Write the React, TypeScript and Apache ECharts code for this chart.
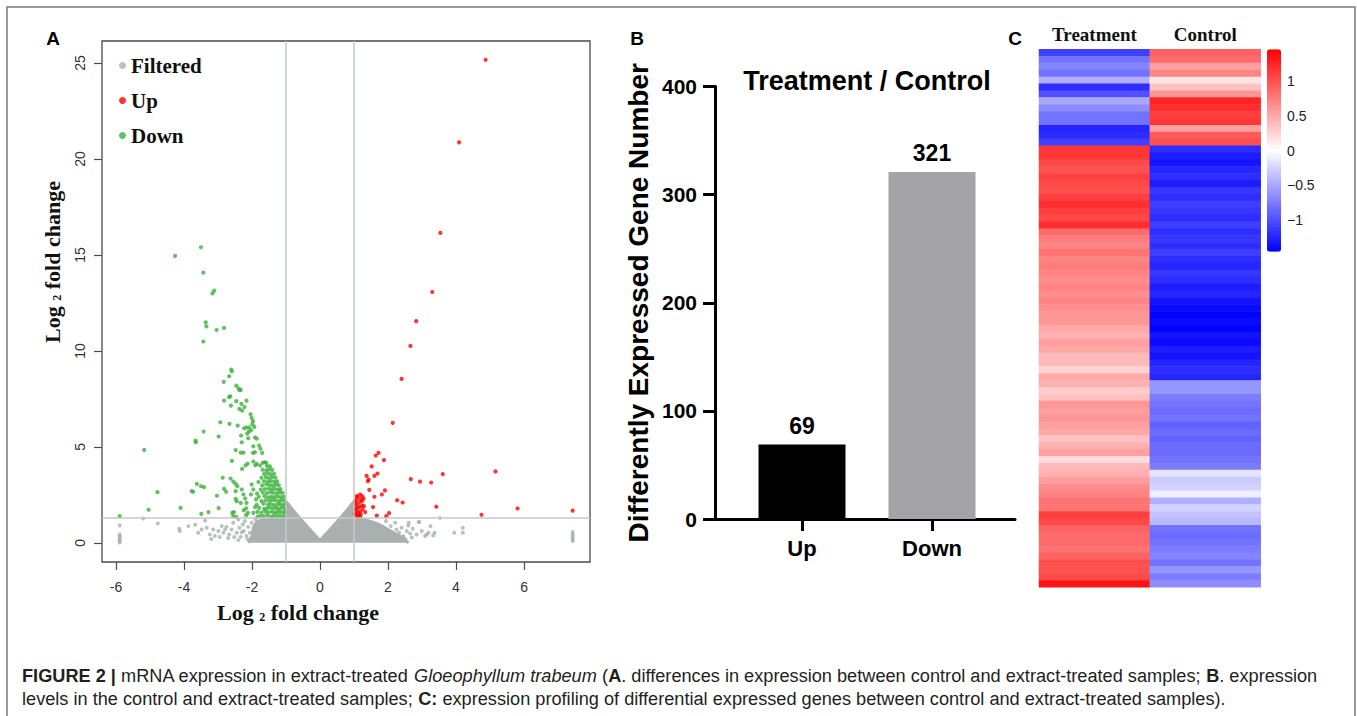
import React, { useEffect, useRef } from "react";
import * as echarts from "echarts";

const SERIF = "'Liberation Serif', 'Times New Roman', serif";
const SANS = "'Liberation Sans', Arial, Helvetica, sans-serif";

// ---------- Panel A: volcano ----------
const xTicksA = [-6, -4, -2, 0, 2, 4, 6];
const yTicksA = [0, 5, 10, 15, 20, 25];
const foldThresholds = [-1, 1];
const pThreshold = 1.3;

// outline of the dense grey cloud of filtered genes
const filteredCloudOutline = [
  [-2.1, 0], [-2.0, 0.35], [-1.95, 0.85], [-1.85, 1.1], [-1.7, 1.2], [-1.4, 1.27], [-1.0, 1.28],
  [-0.99, 2.15], [-0.75, 1.6], [-0.5, 1.1], [-0.25, 0.6], [0, 0.12], [0.25, 0.6], [0.5, 1.1],
  [0.75, 1.6], [0.99, 2.15], [1.0, 1.28], [1.3, 1.22], [1.6, 1.05], [1.9, 0.8], [2.2, 0.5],
  [2.45, 0.25], [2.6, 0],
];

const filteredPoints = [
  [-5.89, 0.9], [-5.89, 0.43], [-5.89, 0.35], [-5.89, 0.26], [-5.89, 0.17], [-5.89, 0.09], [-5.89, 0.02],
  [-5.2, 1.27], [-4.77, 1.01], [-4.14, 0.73], [-4.12, 0.61], [-3.87, 0.87], [-3.67, 0.94], [-3.58, 0.52],
  [-3.48, 0.69], [-3.38, 1.16], [-3.33, 0.78], [-3.24, 0.43], [-3.14, 0.69], [-3.09, 0.35], [-2.99, 0.61],
  [-2.89, 0.87], [-2.84, 0.52], [-2.79, 0.69], [-2.75, 0.83], [-2.67, 0.43], [-2.6, 0.69], [-2.55, 1.04],
  [-2.45, 0.52], [-2.4, 1.22], [-2.37, 0.78], [-2.33, 0.31], [-2.27, 0.95], [-2.24, 0.61], [-2.21, 1.13],
  [-2.16, 0.35], [-2.11, 0.83], [-2.06, 0.52], [-2.01, 1.04], [-1.98, 0.26], [-1.94, 0.73], [-1.9, 1.22],
  [-1.86, 0.43], [-1.82, 0.9], [-1.78, 0.14], [-2.52, 0.3], [-2.4, 0.15], [-2.3, 0.55], [-2.13, 0.18],
  [-2.7, 0.25], [-2.95, 0.3], [-3.2, 0.2],
  [1.47, 0.87], [1.57, 1.04], [1.67, 0.69], [1.72, 0.95], [1.78, 0.52], [1.86, 0.78], [1.94, 1.13],
  [2.01, 0.61], [2.08, 0.87], [2.16, 0.43], [2.21, 1.04], [2.25, 0.69], [2.33, 0.52], [2.4, 0.78],
  [2.45, 0.35], [2.55, 0.61], [2.6, 0.9], [2.65, 0.49], [2.73, 0.73], [2.84, 0.43], [2.92, 1.08],
  [2.99, 0.61], [3.09, 0.35], [3.19, 0.52], [3.25, 0.87], [3.33, 0.38], [3.53, 1.3], [3.95, 0.52],
  [4.2, 0.78], [4.2, 0.52], [2.9, 1.08], [2.61, 1.04], [3.14, 0.43], [3.37, 0.52], [2.3, 0.25],
  [2.5, 0.2], [2.05, 0.3], [1.95, 0.2], [2.7, 0.28],
  [7.43, 0.09], [7.43, 0.18], [7.43, 0.27], [7.43, 0.36], [7.43, 0.45], [7.43, 0.56],
];

const upPoints = [
  [4.87, 25.17], [4.09, 20.87], [3.54, 16.15], [3.3, 13.07], [2.83, 11.55], [2.66, 10.26], [2.4, 8.54],
  [2.14, 6.25], [1.72, 4.69], [1.64, 4.55], [1.88, 4.31], [1.52, 3.98], [1.37, 3.49], [1.43, 3.3],
  [1.41, 3.21], [1.69, 3.61], [1.6, 3.49], [2.67, 3.32], [2.94, 3.19], [3.27, 3.14], [3.61, 3.58],
  [5.16, 3.72], [1.45, 2.76], [1.91, 2.73], [1.82, 2.52], [1.6, 2.4], [2.27, 2.22], [2.43, 2.1],
  [1.56, 1.86], [1.33, 1.6], [1.67, 1.42], [2.03, 1.55], [1.95, 1.39], [3.42, 1.88], [4.75, 1.46],
  [5.81, 1.79], [7.43, 1.68],
  [1.11, 2.4], [1.18, 2.52], [1.24, 2.43], [1.2, 2.26], [1.08, 2.26], [1.14, 2.08], [1.23, 2.17],
  [1.06, 1.94], [1.11, 1.82], [1.16, 1.88], [1.24, 1.94], [1.07, 1.68], [1.12, 1.56], [1.18, 1.63],
  [1.05, 1.48], [1.14, 1.42], [1.25, 1.74], [1.29, 1.91], [1.2, 1.48], [1.08, 2.43], [1.02, 1.52],
  [1.03, 1.75], [1.04, 2.05], [1.1, 1.38], [1.18, 1.36], [1.28, 2.3], [1.03, 2.18],
];

const downHigh = [
  [-4.26, 14.95], [-3.5, 15.4], [-3.43, 14.08], [-3.16, 13.0], [-3.11, 13.14], [-3.36, 11.49],
  [-3.34, 11.28], [-3.04, 11.09], [-2.82, 11.2], [-3.43, 10.49], [-2.61, 9.03], [-2.59, 8.94],
  [-2.67, 8.68], [-2.83, 8.39], [-2.46, 8.19], [-2.39, 8.04], [-2.33, 7.97], [-2.37, 7.95],
  [-2.64, 7.64], [-2.67, 7.59], [-2.82, 7.41], [-2.46, 7.38], [-2.31, 7.24], [-2.16, 7.41],
  [-2.62, 7.15], [-2.22, 7.08], [-2.37, 6.98], [-2.29, 6.89], [-2.04, 6.7], [-2.01, 6.51], [-1.97, 6.34],
];

const downMid = [
  [-2.93, 6.28], [-2.66, 6.2], [-2.42, 6.11], [-2.23, 5.97], [-2.16, 6.01], [-2.08, 6.01], [-1.99, 6.18],
  [-1.93, 6.04], [-3.42, 5.8], [-2.32, 5.59], [-2.14, 5.69], [-2.09, 5.8], [-2.03, 5.87],
  [-2.98, 5.54], [-1.91, 5.49], [-1.86, 5.43], [-3.66, 5.33], [-3.65, 5.24], [-2.3, 5.24], [-2.11, 5.45],
  [-1.96, 5.03], [-1.79, 5.07], [-1.75, 4.9], [-5.17, 4.84], [-2.48, 4.83], [-2.33, 4.7], [-2.25, 4.7],
  [-1.97, 4.69], [-1.91, 4.72], [-1.7, 4.69], [-2.59, 4.27], [-2.29, 3.85], [-2.19, 4.03], [-2.13, 4.13],
  [-1.96, 4.24], [-1.9, 4.04], [-1.86, 4.11], [-1.76, 4.03], [-1.68, 4.17], [-1.63, 4.2], [-1.58, 4.17],
];

const downLow = [
  [-2.86, 3.39], [-2.63, 3.35], [-2.55, 3.19], [-3.62, 3.07], [-3.5, 2.95], [-3.41, 2.9], [-3.77, 2.69],
  [-3.73, 2.66], [-2.82, 2.81], [-2.76, 2.66], [-2.48, 3.07], [-2.43, 2.95], [-2.48, 2.69], [-3.03, 2.45],
  [-2.48, 2.29], [-2.45, 2.17], [-4.78, 2.64], [-4.1, 1.82], [-2.98, 1.81], [-5.04, 1.72], [-3.28, 1.6],
  [-3.49, 1.51], [-2.58, 1.56], [-2.53, 1.6], [-2.2, 2.31], [-2.16, 2.08], [-2.17, 1.8], [-2.24, 1.7],
  [-2.12, 1.56], [-2.17, 1.44], [-2.3, 2.78], [-2.25, 2.52], [-2.33, 2.08], [-5.89, 1.39], [-2.55, 1.39],
  [-2.01, 3.04], [-1.96, 2.78], [-2.03, 2.52], [-1.88, 2.26], [-1.91, 1.86], [-1.96, 1.56], [-1.84, 1.35],
  [-2.46, 1.35],
];

const downDense = [
  [-1.03, 1.4], [-1.1, 1.37], [-1.19, 1.43], [-1.27, 1.38], [-1.36, 1.42], [-1.45, 1.37], [-1.55, 1.44], [-1.66, 1.39], [-1.76, 1.41],
  [-1.02, 1.61], [-1.09, 1.58], [-1.17, 1.63], [-1.26, 1.6], [-1.33, 1.57], [-1.42, 1.62], [-1.52, 1.59], [-1.61, 1.64], [-1.72, 1.58], [-1.84, 1.61],
  [-1.04, 1.8], [-1.12, 1.83], [-1.21, 1.78], [-1.29, 1.82], [-1.38, 1.79], [-1.47, 1.84], [-1.55, 1.8], [-1.64, 1.77], [-1.79, 1.82],
  [-1.02, 2.01], [-1.1, 1.98], [-1.18, 2.03], [-1.25, 2.0], [-1.35, 1.97], [-1.44, 2.02], [-1.53, 1.99], [-1.66, 2.04], [-1.86, 1.98],
  [-1.05, 2.2], [-1.13, 2.23], [-1.22, 2.18], [-1.31, 2.21], [-1.4, 2.24], [-1.49, 2.19], [-1.6, 2.22], [-1.72, 2.17],
  [-1.06, 2.4], [-1.15, 2.38], [-1.24, 2.42], [-1.33, 2.39], [-1.43, 2.41], [-1.52, 2.37], [-1.63, 2.43], [-1.8, 2.4],
  [-1.1, 2.6], [-1.18, 2.63], [-1.27, 2.58], [-1.37, 2.61], [-1.46, 2.64], [-1.56, 2.59], [-1.68, 2.62], [-1.85, 2.57],
  [-1.16, 2.8], [-1.24, 2.78], [-1.33, 2.82], [-1.42, 2.79], [-1.51, 2.83], [-1.62, 2.8], [-1.74, 2.77],
  [-1.21, 3.0], [-1.3, 3.03], [-1.39, 2.98], [-1.48, 3.01], [-1.58, 3.04], [-1.7, 2.99],
  [-1.26, 3.2], [-1.34, 3.18], [-1.44, 3.22], [-1.53, 3.19], [-1.65, 3.21], [-1.81, 3.17],
  [-1.31, 3.4], [-1.4, 3.42], [-1.5, 3.38], [-1.59, 3.41], [-1.72, 3.39],
  [-1.35, 3.6], [-1.45, 3.58], [-1.54, 3.62], [-1.64, 3.59],
  [-1.41, 3.8], [-1.5, 3.82], [-1.58, 3.78], [-1.69, 3.81],
  [-1.47, 3.98], [-1.56, 4.01],
];

const downPoints = [...downHigh, ...downMid, ...downLow, ...downDense];

// ---------- Panel B: bar ----------
const barCategories = ["Up", "Down"];
const barValues = [69, 321];
const barColors = ["#000000", "#a4a4a8"];
const yTicksB = [0, 100, 200, 300, 400];

// ---------- Panel C: heatmap ----------
const heatColumns = ["Treatment", "Control"];
const treatmentValues = [
  -1.1, -0.8, -0.7, -0.8, -0.45, -1.2, -1.0, -0.5, -0.65, -0.8, -0.8, -1.25, -1.2, -1.1,
  1.15, 1.15, 1.05, 1.0, 1.1, 1.05, 1.0, 1.1, 1.2, 1.1, 1.05, 1.2, 0.85,
  0.75, 0.7, 0.8, 0.7, 0.75, 0.7, 0.65, 0.7, 0.65,
  0.7, 0.65, 0.6, 0.6, 0.5, 0.45, 0.55, 0.5, 0.4, 0.4, 0.25, 0.5, 0.45, 0.3, 0.35, 0.6, 0.55, 0.6, 0.55, 0.5,
  0.35, 0.45, 0.55, 0.2, 0.4, 0.45, 0.55, 0.65, 0.7, 0.8, 0.8, 1.1, 1.05, 0.9, 0.85, 0.85, 0.8, 0.9, 1.0,
  1.0, 1.05, 1.35,
];
const controlValues = [
  0.9, 0.85, 0.55, 0.7, 0.15, 0.35, 0.6, 1.25, 1.2, 1.1, 1.15, 0.55, 0.95, 1.0,
  -1.2, -1.3, -1.35, -1.25, -1.2, -1.3, -1.15, -1.2, -1.1, -1.15, -1.2, -1.1, -1.2, -1.15, -1.2, -1.1, -1.2,
  -1.25, -1.15, -1.2, -1.3, -1.25, -1.35, -1.4, -1.45, -1.4, -1.45, -1.35, -1.4, -1.3, -1.35, -1.25, -1.2, -1.25,
  -0.6, -0.6, -0.75, -0.8, -0.85, -0.8, -0.9, -0.85, -0.9, -0.85, -0.85, -0.8, -0.75,
  -0.15, -0.3, -0.25, -0.1, -0.45, -0.25, -0.35, -0.4,
  -0.8, -0.85, -0.8, -0.75, -0.7, -0.8, -0.6, -0.75, -0.65,
];
const colorbarTicks = [-1, -0.5, 0, 0.5, 1];
const colorRange = [-1.46, 1.46];

const GREY = "#aab0b0";
const RED = "#ff0000";
const GREEN = "#3cb23c";

export default function App() {
  const ref = useRef<HTMLDivElement>(null);

  useEffect(() => {
    if (!ref.current) return;
    const chart = echarts.init(ref.current, undefined, { renderer: "svg" });

    const rowIds = treatmentValues.map((_, i) => "gene" + (i + 1));
    const heatData: number[][] = [];
    treatmentValues.forEach((v, i) => heatData.push([0, i, v]));
    controlValues.forEach((v, i) => heatData.push([1, i, v]));

    const captionTextStyle = { fontFamily: SANS, fontSize: 19, fill: "#231f20", fontWeight: "normal" };

    const option: any = {
      animation: false,
      backgroundColor: "#ffffff",
      legend: {
        data: ["Filtered", "Up", "Down"],
        orient: "vertical",
        left: 119,
        top: 55,
        padding: 0,
        icon: "circle",
        itemWidth: 7,
        itemHeight: 7,
        itemGap: 14,
        selectedMode: false,
        textStyle: { fontFamily: SERIF, fontWeight: "bold", fontSize: 21, color: "#111" },
      },
      grid: [
        { left: 102, top: 41, width: 488, height: 521, show: true, borderColor: "#4a4a4a", borderWidth: 1.3, backgroundColor: "transparent" },
        { left: 715, top: 86.5, width: 300, height: 432.5 },
        { left: 737, top: 86.5, width: 260, height: 432.5 },
        { left: 1039, top: 49.3, width: 221.7, height: 538 },
        { left: 1267, top: 49.3, width: 14, height: 202.4 },
      ],
      xAxis: [
        {
          type: "value", gridIndex: 0, min: -6.41, max: 7.94, position: "bottom",
          axisLine: { show: false, onZero: false }, splitLine: { show: false },
          axisTick: { show: true, length: 8, lineStyle: { color: "#4a4a4a", width: 1.2 }, customValues: xTicksA },
          axisLabel: { customValues: xTicksA, color: "#333", fontSize: 14, fontFamily: SANS, margin: 18 },
        },
        {
          type: "value", gridIndex: 1, min: 0, max: 1,
          axisLine: { show: true, onZero: false, lineStyle: { color: "#000", width: 3 } },
          axisTick: { show: false }, axisLabel: { show: false }, splitLine: { show: false },
        },
        {
          type: "category", gridIndex: 2, data: barCategories,
          axisLine: { show: false },
          axisTick: { show: true, alignWithLabel: true, length: 12, lineStyle: { color: "#000", width: 3 } },
          axisLabel: { color: "#000", fontSize: 22, fontWeight: "bold", fontFamily: SANS, margin: 18 },
          splitLine: { show: false },
        },
        {
          type: "category", gridIndex: 3, data: heatColumns, position: "top",
          axisLine: { show: false }, axisTick: { show: false }, splitLine: { show: false },
          axisLabel: { color: "#111", fontSize: 19, fontWeight: "bold", fontFamily: SERIF, margin: 5 },
        },
        { type: "value", gridIndex: 4, min: 0, max: 1, show: false },
      ],
      yAxis: [
        {
          type: "value", gridIndex: 0, min: -1.0, max: 26.15, position: "left",
          axisLine: { show: false, onZero: false }, splitLine: { show: false },
          axisTick: { show: true, length: 8, lineStyle: { color: "#4a4a4a", width: 1.2 }, customValues: yTicksA },
          axisLabel: { customValues: yTicksA, rotate: 90, color: "#333", fontSize: 14, fontFamily: SANS, margin: 15 },
        },
        {
          type: "value", gridIndex: 1, min: 0, max: 400, interval: 100,
          axisLine: { show: true, onZero: false, lineStyle: { color: "#000", width: 3 } },
          axisTick: { show: true, length: 12, lineStyle: { color: "#000", width: 3 } },
          axisLabel: { color: "#000", fontSize: 21, fontWeight: "bold", fontFamily: SANS, margin: 18, customValues: yTicksB },
          splitLine: { show: false },
          name: "Differently Expressed Gene Number",
          nameLocation: "middle",
          nameGap: 63,
          nameTextStyle: { color: "#000", fontSize: 28, fontWeight: "bold", fontFamily: SANS },
        },
        { type: "value", gridIndex: 2, min: 0, max: 400, show: false },
        { type: "category", gridIndex: 3, data: rowIds, inverse: true, show: false },
        {
          type: "value", gridIndex: 4, min: colorRange[0], max: colorRange[1], position: "right",
          axisLine: { show: false }, axisTick: { show: false }, splitLine: { show: false },
          axisLabel: {
            customValues: colorbarTicks, color: "#222", fontSize: 14, fontFamily: SANS, margin: 6,
            formatter: (v: number) => (v < 0 ? "\u2212" + Math.abs(v) : String(v)),
          },
        },
      ],
      visualMap: {
        type: "continuous",
        seriesIndex: 5,
        min: colorRange[0],
        max: colorRange[1],
        calculable: false,
        orient: "vertical",
        left: 1267,
        top: 49.3,
        itemWidth: 14,
        itemHeight: 202.4,
        padding: 0,
        text: ["", ""],
        showLabel: false,
        inRange: { color: ["#0000ff", "#ffffff", "#ff0000"] },
      },
      series: [
        {
          name: "cloud",
          type: "line",
          xAxisIndex: 0, yAxisIndex: 0,
          data: filteredCloudOutline,
          symbol: "none",
          silent: true,
          z: 1,
          lineStyle: { color: GREY, width: 3 },
          areaStyle: { color: GREY, opacity: 1 },
          markLine: {
            silent: true,
            symbol: "none",
            label: { show: false },
            lineStyle: { color: "#c5c9c9", width: 1.5, type: "solid" },
            data: [...foldThresholds.map((v) => ({ xAxis: v })), { yAxis: pThreshold }],
          },
        },
        {
          name: "Filtered", type: "scatter", xAxisIndex: 0, yAxisIndex: 0,
          data: filteredPoints, symbolSize: 4, itemStyle: { color: GREY }, z: 2,
        },
        {
          name: "Up", type: "scatter", xAxisIndex: 0, yAxisIndex: 0,
          data: upPoints, symbolSize: 4.2, itemStyle: { color: RED }, z: 3,
        },
        {
          name: "Down", type: "scatter", xAxisIndex: 0, yAxisIndex: 0,
          data: downPoints, symbolSize: 4.2, itemStyle: { color: GREEN }, z: 3,
        },
        {
          name: "Gene count", type: "bar", xAxisIndex: 2, yAxisIndex: 2,
          barWidth: 87,
          data: barValues.map((v, i) => ({ value: v, itemStyle: { color: barColors[i] } })),
          label: { show: true, position: "top", distance: 7, color: "#000", fontSize: 23, fontWeight: "bold", fontFamily: SANS },
        },
        {
          name: "Expression", type: "heatmap", xAxisIndex: 3, yAxisIndex: 3,
          data: heatData,
          itemStyle: { borderWidth: 0 },
        },
      ],
      graphic: [
        { type: "rect", shape: { x: 7, y: 7, width: 1348, height: 740 }, style: { fill: "none", stroke: "#7a7a7a", lineWidth: 1.5 }, silent: true },
        { type: "text", x: 53, y: 38, style: { text: "A", fontFamily: SANS, fontWeight: "bold", fontSize: 19, fill: "#000", textAlign: "center", verticalAlign: "middle" } },
        { type: "text", x: 637, y: 38, style: { text: "B", fontFamily: SANS, fontWeight: "bold", fontSize: 19, fill: "#000", textAlign: "center", verticalAlign: "middle" } },
        { type: "text", x: 1015, y: 38, style: { text: "C", fontFamily: SANS, fontWeight: "bold", fontSize: 19, fill: "#000", textAlign: "center", verticalAlign: "middle" } },
        {
          type: "text", x: 298, y: 612,
          style: {
            text: "{a|Log }{s|2}{a| fold change}",
            textAlign: "center", verticalAlign: "middle",
            rich: {
              a: { fontFamily: SERIF, fontWeight: "bold", fontSize: 22, fill: "#111", verticalAlign: "bottom" },
              s: { fontFamily: SERIF, fontWeight: "bold", fontSize: 12, fill: "#111", verticalAlign: "bottom" },
            },
          },
        },
        {
          type: "text", x: 52, y: 262, rotation: Math.PI / 2,
          style: {
            text: "{a|Log }{s|2}{a| fold change}",
            textAlign: "center", verticalAlign: "middle",
            rich: {
              a: { fontFamily: SERIF, fontWeight: "bold", fontSize: 22, fill: "#111", verticalAlign: "bottom" },
              s: { fontFamily: SERIF, fontWeight: "bold", fontSize: 12, fill: "#111", verticalAlign: "bottom" },
            },
          },
        },
        { type: "text", x: 867, y: 81, style: { text: "Treatment / Control", fontFamily: SANS, fontWeight: "bold", fontSize: 27, fill: "#000", textAlign: "center", verticalAlign: "middle" } },
        {
          type: "text", x: 22, y: 675, scaleX: 0.957,
          style: {
            text: "{b|FIGURE 2 | }{r|mRNA expression in extract-treated }{i|Gloeophyllum trabeum}{r| (}{b|A}{r|. differences in expression between control and extract-treated samples; }{b|B}{r|. expression}",
            textAlign: "left", verticalAlign: "middle",
            rich: {
              r: { ...captionTextStyle },
              b: { ...captionTextStyle, fontWeight: "bold" },
              i: { ...captionTextStyle, fontStyle: "italic" },
            },
          },
        },
        {
          type: "text", x: 22, y: 698, scaleX: 0.957,
          style: {
            text: "{r|levels in the control and extract-treated samples; }{b|C:}{r| expression profiling of differential expressed genes between control and extract-treated samples).}",
            textAlign: "left", verticalAlign: "middle",
            rich: {
              r: { ...captionTextStyle },
              b: { ...captionTextStyle, fontWeight: "bold" },
            },
          },
        },
      ],
    };

    chart.setOption(option);
    return () => chart.dispose();
  }, []);

  return (
    <div
      ref={ref}
      style={{ position: "fixed", left: 0, top: 0, width: 1357, height: 716, background: "#fff" }}
    />
  );
}
